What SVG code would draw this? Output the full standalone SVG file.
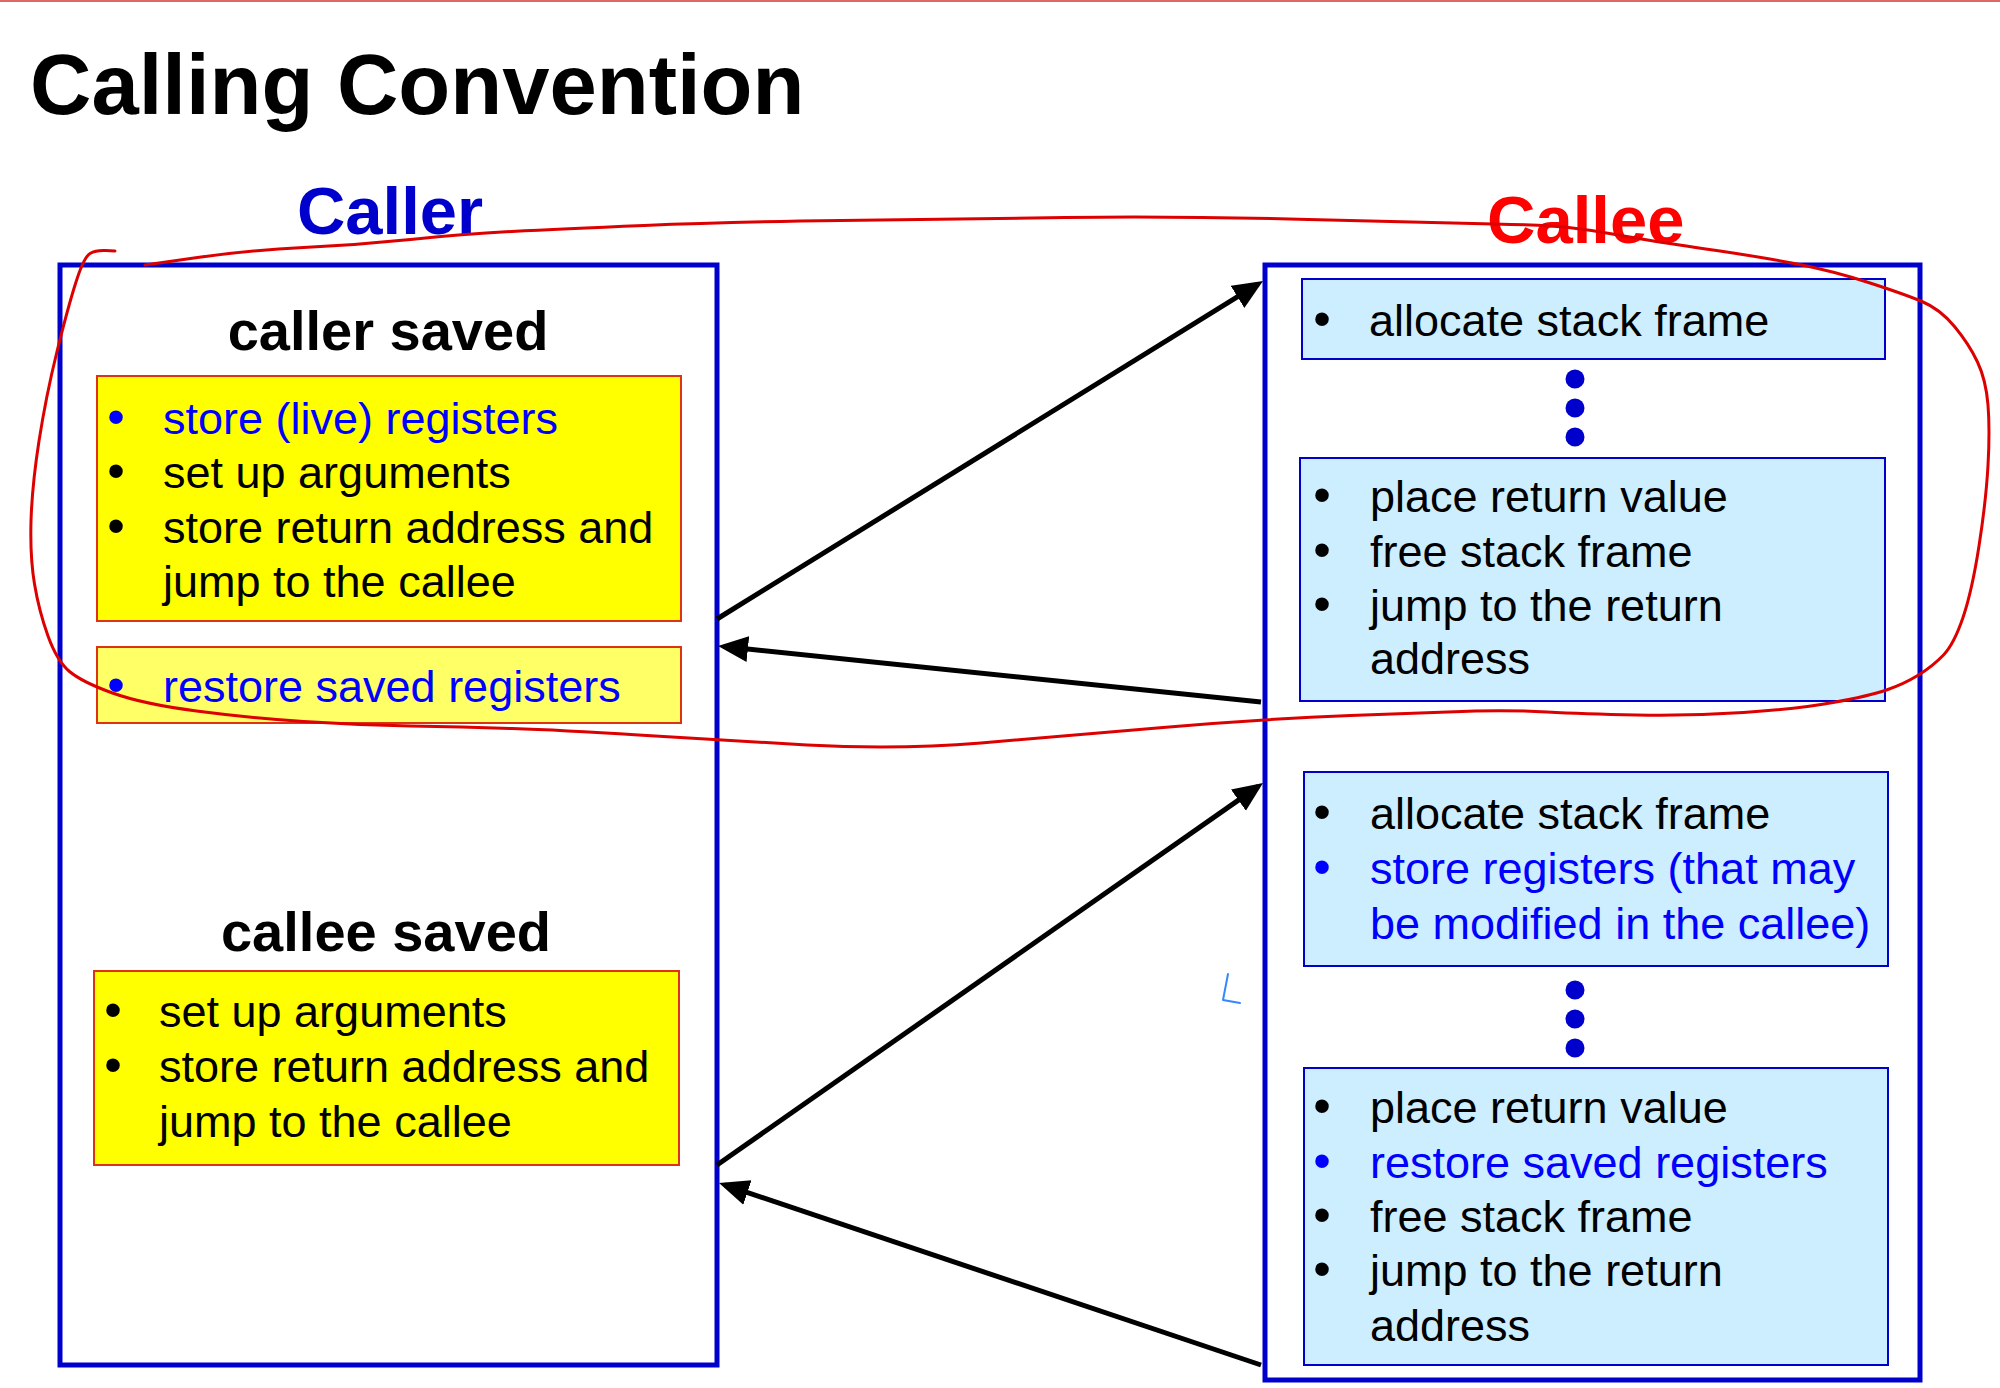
<svg xmlns="http://www.w3.org/2000/svg" width="2000" height="1388" viewBox="0 0 2000 1388">
<defs>
<style>
text{font-family:"Liberation Sans",Arial,sans-serif}
.t{font-size:45px;fill:#000}
.bl{font-size:50px}
.b{fill:#0000ff}
.h{font-weight:bold}
.frame{fill:#fff;stroke:#0000cc;stroke-width:5}
.yb{fill:#ffff00;stroke:#dd3311;stroke-width:2}
.yl{fill:#ffff66;stroke:#dd3311;stroke-width:2}
.lb{fill:#cceeff;stroke:#0000cc;stroke-width:2}
.dot{fill:#0000cc}
.arr{stroke:#000;stroke-width:5;fill:none;marker-end:url(#ah)}
</style>
<marker id="ah" markerUnits="userSpaceOnUse" markerWidth="32" markerHeight="28" refX="24" refY="13" orient="auto" viewBox="0 0 32 28">
<path d="M0,0 L30,13 L0,26 z" fill="#000"/>
</marker>
</defs>
<rect width="2000" height="1388" fill="#fff"/>
<line x1="0" y1="1" x2="2000" y2="1" stroke="#e06666" stroke-width="2"/>
<text x="30" y="114" class="h" font-size="85">Calling Convention</text>

<g id="caller">
<rect class="frame" x="60" y="265" width="657" height="1100"/>
<text x="390" y="234" class="h" font-size="67" fill="#0000cc" text-anchor="middle">Caller</text>
</g>
<g id="caller-saved">
<text x="388" y="350" class="h" font-size="56" text-anchor="middle">caller saved</text>
<rect class="yb" x="97" y="376" width="584" height="245"/>
<g class="t">
<text x="116" y="434" class="b bl" text-anchor="middle">•</text><text x="163" y="434" class="b">store (live) registers</text>
<text x="116" y="488" class="bl" text-anchor="middle">•</text><text x="163" y="488">set up arguments</text>
<text x="116" y="543" class="bl" text-anchor="middle">•</text><text x="163" y="543">store return address and</text>
<text x="163" y="597">jump to the callee</text>
</g>
</g>
<g id="caller-restore">
<rect class="yl" x="97" y="647" width="584" height="76"/>
<g class="t">
<text x="116" y="702" class="b bl" text-anchor="middle">•</text><text x="163" y="702" class="b">restore saved registers</text>
</g>
</g>
<g id="callee-saved">
<text x="386" y="951" class="h" font-size="56" text-anchor="middle">callee saved</text>
<rect class="yb" x="94" y="971" width="585" height="194"/>
<g class="t">
<text x="113" y="1027" class="bl" text-anchor="middle">•</text><text x="159" y="1027">set up arguments</text>
<text x="113" y="1082" class="bl" text-anchor="middle">•</text><text x="159" y="1082">store return address and</text>
<text x="159" y="1137">jump to the callee</text>
</g>
</g>

<g id="callee">
<rect class="frame" x="1265" y="265" width="655" height="1115"/>
<text x="1487" y="243" class="h" font-size="67" fill="#ff0000">Callee</text>
</g>
<g id="callee-alloc1">
<rect class="lb" x="1302" y="279" width="583" height="80"/>
<g class="t">
<text x="1322" y="336" class="bl" text-anchor="middle">•</text><text x="1369" y="336">allocate stack frame</text>
</g>
</g>
<g id="dots1">
<circle class="dot" cx="1575" cy="379" r="9.5"/>
<circle class="dot" cx="1575" cy="408" r="9.5"/>
<circle class="dot" cx="1575" cy="437" r="9.5"/>
</g>
<g id="callee-return1">
<rect class="lb" x="1300" y="458" width="585" height="243"/>
<g class="t">
<text x="1322" y="512" class="bl" text-anchor="middle">•</text><text x="1370" y="512">place return value</text>
<text x="1322" y="567" class="bl" text-anchor="middle">•</text><text x="1370" y="567">free stack frame</text>
<text x="1322" y="621" class="bl" text-anchor="middle">•</text><text x="1370" y="621">jump to the return</text>
<text x="1370" y="674">address</text>
</g>
</g>
<g id="callee-alloc2">
<rect class="lb" x="1304" y="772" width="584" height="194"/>
<g class="t">
<text x="1322" y="829" class="bl" text-anchor="middle">•</text><text x="1370" y="829">allocate stack frame</text>
<text x="1322" y="884" class="b bl" text-anchor="middle">•</text><text x="1370" y="884" class="b">store registers (that may</text>
<text x="1370" y="939" class="b">be modified in the callee)</text>
</g>
</g>
<g id="dots2">
<circle class="dot" cx="1575" cy="990" r="9.5"/>
<circle class="dot" cx="1575" cy="1019" r="9.5"/>
<circle class="dot" cx="1575" cy="1048" r="9.5"/>
</g>
<g id="callee-return2">
<rect class="lb" x="1304" y="1068" width="584" height="297"/>
<g class="t">
<text x="1322" y="1123" class="bl" text-anchor="middle">•</text><text x="1370" y="1123">place return value</text>
<text x="1322" y="1178" class="b bl" text-anchor="middle">•</text><text x="1370" y="1178" class="b">restore saved registers</text>
<text x="1322" y="1232" class="bl" text-anchor="middle">•</text><text x="1370" y="1232">free stack frame</text>
<text x="1322" y="1286" class="bl" text-anchor="middle">•</text><text x="1370" y="1286">jump to the return</text>
<text x="1370" y="1341">address</text>
</g>
</g>

<g id="connectors">
<line class="arr" x1="717" y1="619" x2="1257.9" y2="284.2"/>
<line class="arr" x1="1261" y1="702" x2="724" y2="646.6"/>
<line class="arr" x1="717" y1="1165" x2="1258.1" y2="786.4"/>
<line class="arr" x1="1261" y1="1365" x2="724.7" y2="1184.9"/>
</g>

<g id="annotations" fill="none" stroke-linecap="round" stroke-linejoin="round">
<path stroke="#dd0000" stroke-width="3" d="M145,265 L197.5,257.5 Q250,250 303.5,247.5 Q357,245 410.5,239.5 Q464,234 512,231.5 Q560,229 644,225.5 Q728,222 840.5,220.5 Q953,219 1065,217.5 Q1177,216 1308.5,219.5 Q1440,223 1493.5,224 Q1547,225 1568.5,227.5 Q1590,230 1609.5,233.5 Q1629,237 1650.5,240.5 Q1672,244 1716.5,250.5 Q1761,257 1797,264 Q1833,271 1868.5,282.5 Q1904,294 1922,301.5 Q1940,309 1954.5,326.5 Q1969,344 1977.5,362 Q1986,380 1988,405 Q1990,430 1988,465.5 Q1986,501 1979,546 Q1972,591 1963,617.5 Q1954,644 1943.5,655 Q1933,666 1918.5,675 Q1904,684 1886.5,690 Q1869,696 1833,702.5 Q1797,709 1743.5,712.5 Q1690,716 1636.5,715 Q1583,714 1547,712 Q1511,710 1475.5,711 Q1440,712 1350.5,715.5 Q1261,719 1163,727.5 Q1065,736 981,743 Q897,750 807,745 Q717,740 638.5,735 Q560,730 512,728.5 Q464,727 410.5,726 Q357,725 303.5,721.5 Q250,718 196.5,711 Q143,704 112.5,693 Q82,682 69.5,671.5 Q57,661 48,636 Q39,611 34.5,584 Q30,557 31,521.5 Q32,486 39,441 Q46,396 57,351.5 Q68,307 76,282 Q84,257 90,253.5 Q96,250 105.5,250.5 L115,251"/>
<path stroke="#3388ff" stroke-width="2" d="M1228,974 L1223,1000 L1240,1003"/>
</g>
</svg>
